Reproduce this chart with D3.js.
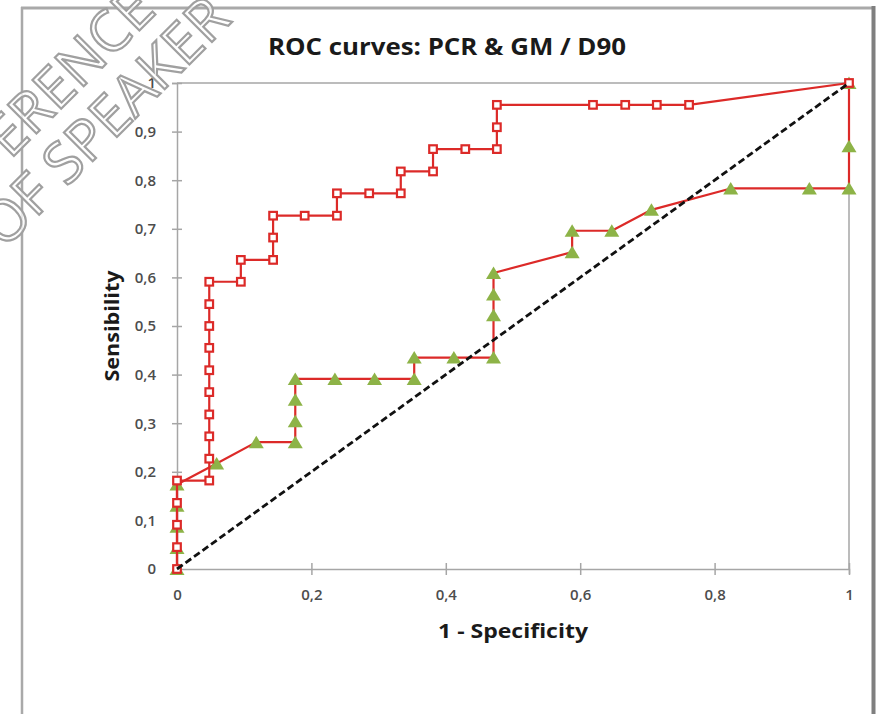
<!DOCTYPE html>
<html>
<head>
<meta charset="utf-8">
<script src="https://cdn.jsdelivr.net/npm/d3@7"></script>
<style>
  html, body { margin: 0; padding: 0; background: #ffffff; }
  svg { display: block; }
  text { font-family: "Open Sans", "Liberation Sans", sans-serif; }
</style>
</head>
<body>
<svg id="chart" width="877" height="714"></svg>
<script>
// ---------------- data ----------------
const chartTitle = "ROC curves: PCR & GM / D90";
const xAxisTitle = "1 - Specificity";
const yAxisTitle = "Sensibility";
const watermarkLines = ["REFERENCE", "OF SPEAKER"];

const xTickValues = [0, 0.2, 0.4, 0.6, 0.8, 1];
const xTickLabels = ["0", "0,2", "0,4", "0,6", "0,8", "1"];
const yTickValues = [0, 0.1, 0.2, 0.3, 0.4, 0.5, 0.6, 0.7, 0.8, 0.9, 1];
const yTickLabels = ["0", "0,1", "0,2", "0,3", "0,4", "0,5", "0,6", "0,7", "0,8", "0,9", "1"];

// PCR series (1 - specificity, sensibility)
const pcrX = [0, 0, 0, 0, 0,
  0.048, 0.048, 0.048, 0.048, 0.048, 0.048, 0.048, 0.048, 0.048, 0.048,
  0.095, 0.095, 0.143, 0.143, 0.143, 0.190, 0.238, 0.238, 0.286, 0.333, 0.333,
  0.381, 0.381, 0.429, 0.476, 0.476, 0.476, 0.619, 0.667, 0.714, 0.762, 1];
const pcrY = [0, 0.045, 0.091, 0.136, 0.182,
  0.182, 0.227, 0.273, 0.318, 0.364, 0.409, 0.455, 0.500, 0.545, 0.591,
  0.591, 0.636, 0.636, 0.682, 0.727, 0.727, 0.727, 0.773, 0.773, 0.773, 0.818,
  0.818, 0.864, 0.864, 0.864, 0.909, 0.955, 0.955, 0.955, 0.955, 0.955, 1];

// GM series
const gmX = [0, 0, 0, 0, 0, 0.059, 0.118, 0.176, 0.176, 0.176, 0.176,
  0.235, 0.294, 0.353, 0.353, 0.412, 0.471, 0.471, 0.471, 0.471,
  0.588, 0.588, 0.647, 0.706, 0.824, 0.941, 1, 1, 1];
const gmY = [0, 0.043, 0.087, 0.130, 0.174, 0.217, 0.261, 0.261, 0.304, 0.348, 0.391,
  0.391, 0.391, 0.391, 0.435, 0.435, 0.435, 0.522, 0.565, 0.609,
  0.652, 0.696, 0.696, 0.739, 0.783, 0.783, 0.783, 0.870, 1];

// reference diagonal
const diagX = [0, 1];
const diagY = [0, 1];

// ---------------- drawing ----------------
const svg = d3.select("#chart");
const W = 877, H = 714;
const plot = { left: 177, right: 849, top: 83, bottom: 569 };

const x = d3.scaleLinear().domain([0, 1]).range([plot.left, plot.right]);
const y = d3.scaleLinear().domain([0, 1]).range([plot.bottom, plot.top]);

const red = "#dc2a28";
const green = "#8db347";
const axisGray = "#a6a6a6";
const labelColor = "#4d4d4d";

// outer frame
svg.append("rect").attr("x", 0).attr("y", 0).attr("width", W).attr("height", H).attr("fill", "#ffffff");
svg.append("line").attr("x1", 22).attr("x2", 22).attr("y1", 7).attr("y2", H).attr("stroke", "#a9a9a9").attr("stroke-width", 2.5);
svg.append("line").attr("x1", 21).attr("x2", 875).attr("y1", 8).attr("y2", 8).attr("stroke", "#a9a9a9").attr("stroke-width", 3);
svg.append("line").attr("x1", 873.5).attr("x2", 873.5).attr("y1", 6).attr("y2", H).attr("stroke", "#7f7f7f").attr("stroke-width", 4);

// plot area border (top + right)
svg.append("line").attr("x1", plot.left).attr("x2", plot.right).attr("y1", plot.top).attr("y2", plot.top)
  .attr("stroke", axisGray).attr("stroke-width", 1.5);
svg.append("line").attr("x1", plot.right).attr("x2", plot.right).attr("y1", plot.top).attr("y2", plot.bottom)
  .attr("stroke", axisGray).attr("stroke-width", 1.5);

// axes
const yAxis = d3.axisLeft(y).tickValues(yTickValues)
  .tickFormat((d, i) => yTickLabels[i]).tickSize(5).tickPadding(16);
const xAxis = d3.axisBottom(x).tickValues(xTickValues)
  .tickFormat((d, i) => xTickLabels[i]).tickSize(5).tickPadding(15);

const gy = svg.append("g").attr("transform", `translate(${plot.left},0)`).call(yAxis);
const gx = svg.append("g").attr("transform", `translate(0,${plot.bottom})`).call(xAxis);

[gx, gy].forEach(g => {
  g.select(".domain").attr("stroke", axisGray).attr("stroke-width", 1.5);
  g.selectAll(".tick line").attr("stroke", axisGray).attr("stroke-width", 1.5);
  g.selectAll(".tick text").attr("fill", labelColor).attr("font-size", 15)
    .attr("font-family", "'Open Sans', sans-serif").attr("font-weight", 600);
});
gy.selectAll(".tick line").attr("x1", 5).attr("x2", -5);
gx.selectAll(".tick line").attr("y1", -6).attr("y2", 6);

// title & axis titles
svg.append("text").attr("x", 447).attr("y", 55).attr("text-anchor", "middle")
  .attr("font-size", 23).attr("font-weight", 700).attr("fill", "#1a1a1a")
  .attr("textLength", 358).attr("lengthAdjust", "spacingAndGlyphs").text(chartTitle);
svg.append("text").attr("x", 513).attr("y", 638).attr("text-anchor", "middle")
  .attr("font-size", 19).attr("font-weight", 700).attr("fill", "#1a1a1a")
  .attr("textLength", 150).attr("lengthAdjust", "spacingAndGlyphs").text(xAxisTitle);
svg.append("text").attr("transform", "translate(119,326) rotate(-90)").attr("text-anchor", "middle")
  .attr("font-size", 19).attr("font-weight", 700).attr("fill", "#1a1a1a")
  .attr("textLength", 111).attr("lengthAdjust", "spacingAndGlyphs").text(yAxisTitle);

// series
const toPts = (xs, ys) => xs.map((v, i) => [v, ys[i]]);
const gmPts = toPts(gmX, gmY);
const pcrPts = toPts(pcrX, pcrY);
const diagPts = toPts(diagX, diagY);
const line = d3.line().x(d => x(d[0])).y(d => y(d[1]));

// GM
svg.append("path").datum(gmPts).attr("d", line).attr("fill", "none")
  .attr("stroke", red).attr("stroke-width", 2.2).attr("stroke-linejoin", "round");
svg.append("g").selectAll("path").data(gmPts).join("path")
  .attr("transform", d => `translate(${x(d[0])},${y(d[1])})`)
  .attr("d", "M0,-6.5L7.5,6L-7.5,6Z").attr("fill", green);

// PCR
svg.append("path").datum(pcrPts).attr("d", line).attr("fill", "none")
  .attr("stroke", red).attr("stroke-width", 2.2).attr("stroke-linejoin", "round");
svg.append("g").selectAll("rect").data(pcrPts).join("rect")
  .attr("x", d => x(d[0]) - 3.8).attr("y", d => y(d[1]) - 3.8)
  .attr("width", 7.6).attr("height", 7.6)
  .attr("fill", "#ffffff").attr("stroke", red).attr("stroke-width", 2.2);

// diagonal
svg.append("path").datum(diagPts).attr("d", line).attr("fill", "none")
  .attr("stroke", "#111111").attr("stroke-width", 2.8).attr("stroke-dasharray", "7,3.5");

// watermark
const wm = svg.append("g").attr("fill", "#ffffff").attr("fill-opacity", 0.75)
  .attr("stroke", "#a0a0a0").attr("stroke-width", 2.2)
  .attr("font-family", "'Liberation Sans', Arial, sans-serif").attr("font-size", 57);
wm.append("text").attr("transform", "translate(-58,228) rotate(-45)").text(watermarkLines[0]);
wm.append("text").attr("transform", "translate(4,250) rotate(-45)").text(watermarkLines[1]);
</script>
</body>
</html>
